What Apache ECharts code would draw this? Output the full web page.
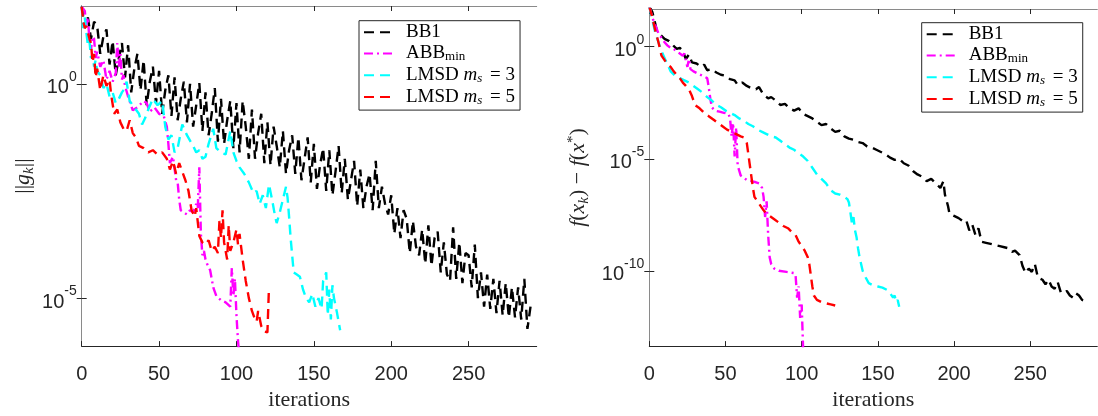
<!DOCTYPE html>
<html><head><meta charset="utf-8">
<script src="https://cdn.jsdelivr.net/npm/echarts@6/dist/echarts.min.js"></script>
<style>html,body{margin:0;padding:0;background:#fff}#c{width:1098px;height:416px}</style>
</head><body><div id="c"></div>
<script>
// ---------------- DATA (values are log10 of the plotted quantity) ----------------
const xTicks = [0, 50, 100, 150, 200, 250];
const gradTicks = [1e-5, 1];
const funcTicks = [1e-10, 1e-5, 1];
const seriesNames = ['BB1', 'ABBmin', 'LMSD3', 'LMSD5'];

// Left panel: ||g_k||  (BB1 read at every second iteration)
const bb1GradIter = [
 0,2,4,6,8,10,12,14,16,18,20,22,24,26,28,30,32,34,36,38,40,42,44,46,48,50,52,54,56,58,
 60,62,64,66,68,70,72,74,76,78,80,82,84,86,88,90,92,94,96,98,100,102,104,106,108,110,112,114,116,118,
 120,122,124,126,128,130,132,134,136,138,140,142,144,146,148,150,152,154,156,158,160,162,164,166,168,170,172,174,176,178,
 180,182,184,186,188,190,192,194,196,198,200,202,204,206,208,210,212,214,216,218,220,222,224,226,228,230,232,234,236,238,
 240,242,244,246,248,250,252,254,256,258,260,262,264,266,268,270,272,274,276,278,280,282,284,286,288,290
];
const bb1GradLog = [
 1.80, 1.30, 1.55, 1.05, 1.45,   1.35, 0.70, 1.10, 1.27, 0.45,
 1.00, 0.20, 0.60, 0.95, 0.15,   0.90, -0.20, 0.35, 0.70, -0.15,
 0.55, -0.50, 0.05, 0.40, -0.45, 0.30, -0.70, -0.15, 0.20, -0.75,
 0.15, -0.85, -0.35, 0.05, -0.90, 0.00, -1.00, -0.50, 0.02, -1.10,
 -0.20, -1.20, -0.70, -0.10, -1.35, -0.35, -1.40, -0.85, -0.40, -1.50,
 -0.45, -1.60, -0.40, -1.00, -1.75, -0.60, -1.75, -1.15, -0.70, -1.85,
 -0.90, -1.90, -1.00, -1.45, -1.95, -1.10, -2.10, -1.55, -1.20, -2.10,
 -1.25, -2.25, -1.75, -1.25, -2.30, -1.40, -2.45, -1.90, -1.50, -2.50,
 -1.55, -2.60, -2.05, -1.45, -2.55, -1.75, -2.70, -2.25, -1.80, -2.85,
 -2.00, -2.90, -2.40, -2.10, -2.95, -1.80, -2.90, -2.40, -2.80, -3.05,
 -2.60, -3.50, -2.90, -3.60, -2.95, -3.15, -3.95, -3.20, -3.80, -4.00,
 -3.40, -4.20, -3.30, -4.25, -3.60, -3.45, -4.40, -3.70, -4.45, -4.60,
 -3.35, -4.55, -3.70, -4.65, -3.95, -4.00, -4.75, -3.75, -5.00, -4.40,
 -5.20, -4.45, -5.25, -4.55, -5.35, -4.60, -5.40, -4.65, -5.45, -4.75,
 -5.45, -4.75, -5.50, -4.55, -5.72, -5.20
];
const abbGradIter = [0,2,3,4,5,6,7,8,9,10,12,14,16,18,20,22,23,24,25,26,27,28,30,33,36,40,42,44,47,50,53,55,56,57,59,61,62,63,64,66,68,70,72,74,75,76,77,78,79,80,81,83,85,87,90,93,96,97,98,99,100,101,102];
const abbGradLog = [1.80,1.70,1.35,1.55,1.00,0.80,1.10,1.05,0.60,0.75,0.40,0.55,0.10,0.30,0.05,0.25,0.95,0.40,0.70,0.10,0.20,-0.05,-0.30,-0.62,-0.55,-0.40,-0.45,-0.65,-0.55,-0.70,-0.75,-1.00,-1.40,-1.85,-1.70,-2.25,-2.30,-2.70,-2.95,-3.00,-3.05,-2.95,-3.00,-2.80,-2.90,-1.95,-3.50,-4.00,-3.90,-4.10,-4.20,-4.35,-4.75,-4.95,-5.05,-5.10,-5.20,-4.30,-4.95,-4.55,-5.40,-6.00,-6.40];
const lm3GradIter = [0,1,2,3,4,5,6,7,8,9,10,12,14,16,18,20,22,24,26,28,29,31,34,37,39,41,43,46,49,52,54,56,58,60,62,65,68,72,74,76,78,80,82,85,87,90,93,96,98,100,102,105,108,111,113,115,117,119,121,123,125,126,128,130,132,133,134,135,136,137,139,141,143,145,147,149,151,153,155,156,158,159,160,161,162,163,165,167];
const lm3GradLog = [1.80,1.30,1.55,1.20,0.90,1.00,0.60,0.70,0.40,0.55,0.30,0.20,-0.10,0.00,-0.30,-0.20,-0.45,-0.35,-0.20,-0.10,0.05,-0.40,-0.55,-0.70,-0.95,-0.80,-0.60,-0.35,-0.50,-0.40,-1.00,-1.30,-1.20,-1.60,-1.50,-0.95,-1.20,-1.45,-1.60,-1.55,-1.75,-1.70,-1.40,-1.05,-1.50,-1.60,-1.65,-1.10,-1.60,-1.80,-1.95,-2.10,-2.30,-2.55,-2.50,-2.80,-2.60,-2.90,-2.35,-2.70,-3.10,-3.25,-3.00,-2.70,-2.40,-2.65,-3.10,-3.60,-4.00,-4.40,-4.45,-4.50,-4.80,-5.00,-5.10,-4.90,-5.20,-5.00,-5.25,-4.60,-4.40,-5.40,-4.80,-5.50,-4.70,-5.00,-5.35,-5.75];
const lm5GradIter = [0,1,2,3,4,5,6,7,8,9,10,12,14,16,18,19,21,23,25,27,29,31,33,35,37,40,43,46,49,52,55,57,59,61,63,65,67,69,71,73,74,76,78,80,82,84,86,88,89,90,91,92,94,95,96,98,100,101,102,104,106,108,110,112,113,114,116,118,120,121];
const lm5GradLog = [1.80,1.45,1.30,1.35,1.20,1.05,0.95,0.50,0.70,0.15,0.35,-0.15,0.20,-0.05,0.10,-0.25,-0.70,-0.60,-0.90,-1.05,-1.10,-0.85,-1.15,-1.25,-1.45,-1.50,-1.60,-1.55,-1.65,-1.60,-1.75,-2.00,-1.80,-2.10,-1.85,-2.05,-2.25,-2.50,-2.95,-3.10,-2.90,-3.55,-3.70,-3.75,-3.65,-3.90,-3.80,-3.95,-3.20,-3.60,-2.95,-3.70,-4.10,-3.30,-3.90,-3.70,-3.40,-3.75,-3.50,-4.10,-4.60,-5.00,-5.30,-5.50,-5.55,-5.30,-5.65,-5.78,-5.80,-4.75];

// Right panel: f(x_k) - f(x*)
const bb1FuncIter = [0,2,4,5,7,10,13,15,18,20,22,24,26,28,31,34,36,38,41,44,47,50,53,56,58,61,64,67,70,72,75,78,80,83,86,89,92,95,98,101,104,107,110,113,116,119,122,125,128,131,134,137,140,143,146,149,152,155,158,161,164,167,170,173,176,179,182,185,188,191,193,194,196,197,200,203,206,208,210,212,214,216,218,221,224,227,230,233,236,238,240,243,245,247,249,251,253,255,258,260,262,264,266,268,270,272,274,276,278,280,282,284,286,288];
const bb1FuncLog = [1.80,1.55,1.00,0.70,0.55,0.35,0.25,0.10,-0.10,-0.05,-0.20,-0.55,-0.35,-0.70,-0.75,-0.90,-0.80,-1.05,-1.00,-1.15,-1.25,-1.30,-1.45,-1.50,-1.70,-1.60,-1.75,-1.85,-1.90,-1.80,-2.15,-2.30,-2.25,-2.40,-2.60,-2.55,-2.75,-2.85,-2.75,-3.00,-3.10,-3.20,-3.35,-3.50,-3.45,-3.65,-3.80,-3.75,-4.00,-4.10,-4.15,-4.25,-4.30,-4.45,-4.50,-4.60,-4.70,-4.80,-4.95,-5.05,-5.00,-5.20,-5.30,-5.55,-5.70,-5.80,-6.00,-5.90,-6.10,-6.30,-6.00,-6.60,-7.10,-7.45,-7.55,-7.65,-7.80,-7.75,-8.20,-7.95,-8.40,-8.10,-8.70,-8.75,-8.80,-8.85,-8.90,-8.95,-9.00,-9.15,-9.10,-9.30,-9.80,-10.10,-9.90,-10.05,-9.70,-10.30,-10.40,-10.60,-10.40,-10.70,-10.80,-10.50,-10.95,-11.00,-10.90,-11.10,-11.20,-11.00,-11.10,-11.30,-11.35,-11.45];
const abbFuncIter = [0,2,4,6,8,10,12,14,16,18,20,22,23,25,26,27,29,32,35,38,39,40,41,43,46,49,52,53,54,55,56,57,58,60,62,64,67,70,72,74,75,76,77,78,79,80,82,85,90,95,96,97,98,99,100,101];
const abbFuncLog = [1.80,1.30,0.95,0.60,0.40,0.20,0.05,-0.05,-0.10,-0.20,-0.30,-0.40,-0.30,-0.90,-0.55,-1.00,-1.10,-1.20,-1.30,-1.40,-1.80,-2.30,-2.70,-2.85,-2.90,-2.95,-3.00,-3.20,-4.00,-3.40,-4.90,-3.60,-5.30,-5.75,-5.85,-5.95,-6.00,-6.05,-6.10,-6.30,-6.70,-7.60,-6.90,-8.40,-9.40,-9.70,-9.90,-10.00,-10.05,-10.10,-10.20,-11.20,-10.70,-12.10,-11.50,-13.60];
const lm3FuncIter = [0,2,4,6,8,10,12,14,17,20,23,26,29,32,35,38,41,44,47,50,53,56,59,62,65,68,71,74,77,80,83,86,89,92,95,98,101,104,107,110,113,116,119,122,125,128,130,131,132,133,134,135,136,137,138,140,142,144,147,150,153,156,158,160,161,162,163,164];
const lm3FuncLog = [1.80,1.20,0.60,0.20,-0.20,-0.50,-0.80,-1.10,-1.30,-1.40,-1.50,-1.60,-1.75,-1.90,-2.05,-2.25,-2.40,-2.60,-2.70,-2.85,-2.95,-3.05,-3.20,-3.30,-3.45,-3.55,-3.70,-3.80,-3.90,-4.00,-4.05,-4.20,-4.35,-4.50,-4.60,-4.75,-4.90,-5.10,-5.40,-5.70,-5.90,-6.10,-6.40,-6.55,-6.60,-6.70,-6.80,-6.95,-7.40,-7.90,-7.60,-8.20,-8.50,-9.00,-9.40,-10.00,-10.30,-10.55,-10.65,-10.70,-10.75,-10.85,-11.00,-11.20,-11.10,-11.40,-11.30,-11.60];
const lm5FuncIter = [0,2,4,6,8,10,12,14,16,18,20,22,24,26,28,30,33,36,39,42,45,48,51,54,57,60,62,64,65,66,67,68,69,71,73,75,77,79,82,85,88,91,94,96,98,100,102,104,105,106,107,108,110,113,116,119,122];
const lm5FuncLog = [1.80,1.30,0.70,0.20,-0.40,-0.60,-0.80,-0.90,-1.10,-1.25,-1.40,-1.60,-1.75,-1.90,-2.20,-2.60,-2.75,-2.95,-3.10,-3.25,-3.40,-3.55,-3.70,-3.80,-3.90,-4.00,-4.05,-4.30,-4.80,-5.30,-5.80,-6.30,-6.70,-6.90,-7.10,-7.30,-7.45,-7.55,-7.70,-7.85,-8.00,-8.10,-8.30,-8.40,-8.70,-8.90,-9.10,-9.40,-9.70,-10.20,-10.70,-11.10,-11.30,-11.40,-11.45,-11.50,-11.55];

// ---------------- CHART ----------------
const toPairs = (iters, logs) => logs.map((v, i) => [iters[i], Math.pow(10, v)]);

const colors = { BB1: '#000000', ABBmin: '#ff00ff', LMSD3: '#00ffff', LMSD5: '#ff0000' };
const dashes = { BB1: [10, 6], ABBmin: [9, 4, 2, 4], LMSD3: [10, 6], LMSD5: [10, 6] };
const LW = 2.4;
const AX = '#262626';
const AX2 = '#8a8a8a';
const SANS = 'Liberation Sans, Arial, sans-serif';
const SERIF = 'Liberation Serif, Times New Roman, serif';

const grids = [
  { left: 81.7, top: 6, width: 455, height: 348.5 },
  { left: 649.3, top: 9, width: 448, height: 346 }
];
const yRanges = [
  [Math.pow(10, -6.12), Math.pow(10, 1.815)],
  [Math.pow(10, -13.36), Math.pow(10, 1.683)]
];
const yTickSets = [gradTicks, funcTicks];
const XMAX = 294;

const supLabel = v => {
  const e = Math.round(Math.log10(v));
  return '{b|10}{s|' + e + '}';
};
const tickRich = {
  b: { fontFamily: SANS, fontSize: 20, color: AX, lineHeight: 28, verticalAlign: 'bottom' },
  s: { fontFamily: SANS, fontSize: 14, color: AX, lineHeight: 15, verticalAlign: 'top' }
};

const xAxes = [], yAxes = [];
for (let g = 0; g < 2; g++) {
  xAxes.push({
    type: 'value', gridIndex: g, min: 0, max: XMAX, position: 'bottom',
    name: 'iterations', nameLocation: 'middle', nameGap: 41,
    nameTextStyle: { fontFamily: SERIF, fontSize: 22, color: AX },
    axisLine: { show: true, lineStyle: { color: AX, width: 1 } },
    axisTick: { show: true, inside: true, length: 5, customValues: xTicks, lineStyle: { color: AX } },
    axisLabel: { show: true, customValues: xTicks, margin: 18, fontFamily: SANS, fontSize: 20, color: AX },
    splitLine: { show: false }
  });
  xAxes.push({
    type: 'value', gridIndex: g, min: 0, max: XMAX, position: 'top',
    axisLine: { show: true, lineStyle: { color: AX2, width: 1 } },
    axisTick: { show: true, inside: true, length: 5, customValues: xTicks, lineStyle: { color: AX } },
    axisLabel: { show: false },
    splitLine: { show: false }
  });
  const yName = g === 0
    ? '{r|||}{i|g}{sb|k}{r|||}'
    : '{i|f}{r|(}{i|x}{sb|k}{r|) − }{i|f}{r|(}{i|x}{sp|*}{r|)}';
  yAxes.push({
    type: 'log', logBase: 10, gridIndex: g, min: yRanges[g][0], max: yRanges[g][1], position: 'left',
    name: yName, nameLocation: 'middle', nameGap: g === 0 ? 45 : 58, nameRotate: 90,
    nameTextStyle: {
      fontFamily: SERIF, fontSize: 22, color: AX,
      rich: {
        r: { fontFamily: SERIF, fontSize: 22, color: AX, lineHeight: 26 },
        i: { fontFamily: SERIF, fontSize: 22, fontStyle: 'italic', color: AX, lineHeight: 26 },
        sb: { fontFamily: SERIF, fontSize: 15, fontStyle: 'italic', color: AX, lineHeight: 16, verticalAlign: 'bottom' },
        sp: { fontFamily: SERIF, fontSize: 15, color: AX, lineHeight: 14, verticalAlign: 'top' }
      }
    },
    axisLine: { show: true, lineStyle: { color: AX, width: 1 } },
    axisTick: { show: true, inside: true, length: 5, customValues: yTickSets[g], lineStyle: { color: AX } },
    axisLabel: { show: true, customValues: yTickSets[g], margin: 5, formatter: supLabel, rich: tickRich },
    minorTick: { show: false },
    splitLine: { show: false }
  });
  yAxes.push({
    type: 'log', logBase: 10, gridIndex: g, min: yRanges[g][0], max: yRanges[g][1], position: 'right',
    axisLine: { show: true, lineStyle: { color: AX2, width: 1 } },
    axisTick: { show: true, inside: true, length: 5, customValues: yTickSets[g], lineStyle: { color: AX } },
    axisLabel: { show: false },
    splitLine: { show: false }
  });
}

const panelData = [
  { BB1: toPairs(bb1GradIter, bb1GradLog), ABBmin: toPairs(abbGradIter, abbGradLog), LMSD3: toPairs(lm3GradIter, lm3GradLog), LMSD5: toPairs(lm5GradIter, lm5GradLog) },
  { BB1: toPairs(bb1FuncIter, bb1FuncLog), ABBmin: toPairs(abbFuncIter, abbFuncLog), LMSD3: toPairs(lm3FuncIter, lm3FuncLog), LMSD5: toPairs(lm5FuncIter, lm5FuncLog) }
];

const series = [];
for (let g = 0; g < 2; g++) {
  seriesNames.forEach(n => {
    series.push({
      name: n, type: 'line', xAxisIndex: g * 2, yAxisIndex: g * 2,
      data: panelData[g][n], showSymbol: false, symbol: 'none', clip: true,
      lineStyle: { color: colors[n], width: LW, type: dashes[n], cap: 'butt', join: 'bevel' },
      itemStyle: { color: colors[n] },
      emphasis: { disabled: true }, animation: false
    });
  });
}

const legendText = {
  BB1: '{f|BB1}',
  ABBmin: '{f|ABB}{su|min}',
  LMSD3: '{f|LMSD }{i|m}{sb|s}{r| = 3}',
  LMSD5: '{f|LMSD }{i|m}{sb|s}{r| = 5}'
};
const legendRich = {
  f: { fontFamily: SERIF, fontSize: 19, color: '#000', lineHeight: 20, padding: [0, 0, 0, 5] },
  r: { fontFamily: SERIF, fontSize: 19, color: '#000', lineHeight: 20, padding: [0, 0, 0, 3] },
  i: { fontFamily: SERIF, fontSize: 19, fontStyle: 'italic', color: '#000', lineHeight: 20 },
  sb: { fontFamily: SERIF, fontSize: 13, fontStyle: 'italic', color: '#000', lineHeight: 12, verticalAlign: 'bottom' },
  su: { fontFamily: SERIF, fontSize: 13, color: '#000', lineHeight: 12, verticalAlign: 'bottom' }
};
const mkLegend = (left, top) => ({
  data: seriesNames, orient: 'vertical', left: left, top: top,
  itemWidth: 32, itemHeight: 14, itemGap: 2.3,
  padding: [2, 5, 3, 4],
  borderColor: AX, borderWidth: 1, backgroundColor: '#fff',
  itemStyle: { opacity: 0, borderWidth: 0 },
  formatter: n => legendText[n],
  textStyle: { fontFamily: SERIF, fontSize: 19, color: '#000', rich: legendRich },
  selectedMode: false
});

const chart = echarts.init(document.getElementById('c'), null, { renderer: 'canvas' });
chart.setOption({
  animation: false,
  backgroundColor: '#fff',
  grid: grids,
  xAxis: xAxes,
  yAxis: yAxes,
  legend: [mkLegend(359, 20.7), mkLegend(921.7, 22.7)],
  series: series
});
</script></body></html>
